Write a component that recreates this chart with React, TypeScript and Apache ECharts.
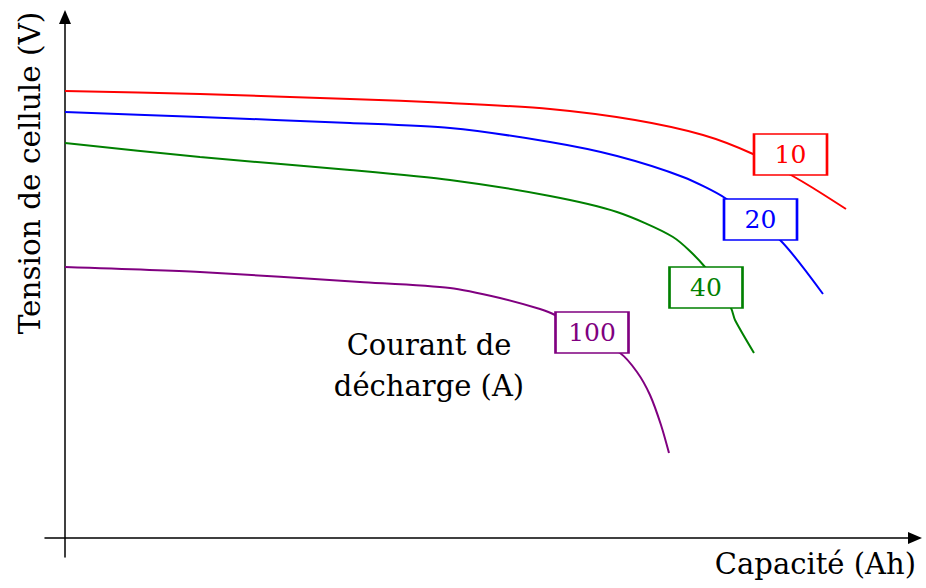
import React, { useEffect, useRef } from "react";
import * as echarts from "echarts";

// Capacity (x) and cell voltage (y) readings, arbitrary units, origin at the axes' crossing
const capacity10 = [0, 135, 285, 385, 485, 570, 638, 688, 726, 748, 781];
const voltage10 = [447, 444, 439, 435, 429, 418, 403, 384, 363, 350, 329];

const capacity20 = [0, 135, 285, 385, 485, 552, 618, 660, 715, 758];
const voltage20 = [426, 421, 415, 410, 396, 382, 361, 340, 298, 244];

const capacity40 = [0, 135, 285, 385, 485, 552, 608, 640, 666, 670, 689];
const voltage40 = [395, 381, 368, 358, 342, 326, 301, 271, 230, 218, 185];

const capacity100 = [0, 135, 295, 385, 435, 475, 490, 555, 572, 585, 596, 604];
const voltage100 = [271, 266, 256, 250, 240, 229, 223, 185, 166, 143, 113, 85];

const dischargeCurrents = ["10", "20", "40", "100"];
const curveColors = ["#ff0000", "#0000ff", "#008000", "#800080"];
const labelCapacity = [725.5, 695.5, 641, 527];
const labelVoltage = [383.5, 318.5, 250.5, 205.5];

const xAxisName = "Capacité (Ah)";
const yAxisName = "Tension de cellule (V)";
const annotation = "Courant de\ndécharge (A)";

const FONT = "DejaVu Serif";

function zip(xs: number[], ys: number[]) {
  return xs.map((x, i) => [x, ys[i]]);
}

export default function App() {
  const ref = useRef<HTMLDivElement>(null);
  useEffect(() => {
    if (!ref.current) return;
    const chart = echarts.init(ref.current, undefined, { renderer: "svg" });
    const curves = [
      zip(capacity10, voltage10),
      zip(capacity20, voltage20),
      zip(capacity40, voltage40),
      zip(capacity100, voltage100),
    ];
    const axisLine = {
      show: true,
      onZero: true,
      symbol: ["none", "triangle"],
      symbolSize: [12, 14],
      lineStyle: { color: "#000", width: 1.5 },
    };
    chart.setOption({
      animation: false,
      backgroundColor: "#ffffff",
      grid: { left: 45, right: 11, top: 17, bottom: 31 },
      xAxis: {
        type: "value",
        min: -20,
        max: 850,
        axisLine,
        axisTick: { show: false },
        axisLabel: { show: false },
        splitLine: { show: false },
      },
      yAxis: {
        type: "value",
        min: -19,
        max: 521,
        axisLine,
        axisTick: { show: false },
        axisLabel: { show: false },
        splitLine: { show: false },
      },
      series: curves.map((data, i) => ({
        type: "line",
        name: dischargeCurrents[i],
        data,
        smooth: 0.25,
        showSymbol: false,
        symbol: "none",
        silent: true,
        lineStyle: { color: curveColors[i], width: 2 },
        itemStyle: { color: curveColors[i] },
        z: 2,
        markPoint: {
          silent: true,
          symbol: "rect",
          symbolSize: [73, 41],
          itemStyle: { color: "#ffffff", borderColor: curveColors[i], borderWidth: 2 },
          label: {
            show: true,
            position: "inside",
            formatter: dischargeCurrents[i],
            color: curveColors[i],
            fontFamily: FONT,
            fontSize: 25,
          },
          data: [{ coord: [labelCapacity[i], labelVoltage[i]], name: dischargeCurrents[i] }],
        },
      })),
      graphic: [
        {
          type: "text",
          right: 10,
          top: 549,
          style: {
            text: xAxisName,
            fontFamily: FONT,
            fontSize: 29,
            fill: "#000",
          },
        },
        {
          type: "text",
          x: 30,
          y: 173,
          rotation: Math.PI / 2,
          style: {
            text: yAxisName,
            fontFamily: FONT,
            fontSize: 29.5,
            fill: "#000",
            align: "center",
            verticalAlign: "middle",
          },
        },
        {
          type: "text",
          x: 429,
          y: 365,
          style: {
            text: annotation,
            fontFamily: FONT,
            fontSize: 29,
            lineHeight: 41,
            fill: "#000",
            align: "center",
            verticalAlign: "middle",
          },
        },
      ],
    });
    return () => chart.dispose();
  }, []);
  return (
    <div
      ref={ref}
      style={{ position: "fixed", left: 0, top: 0, width: 926, height: 588, background: "#fff" }}
    />
  );
}
